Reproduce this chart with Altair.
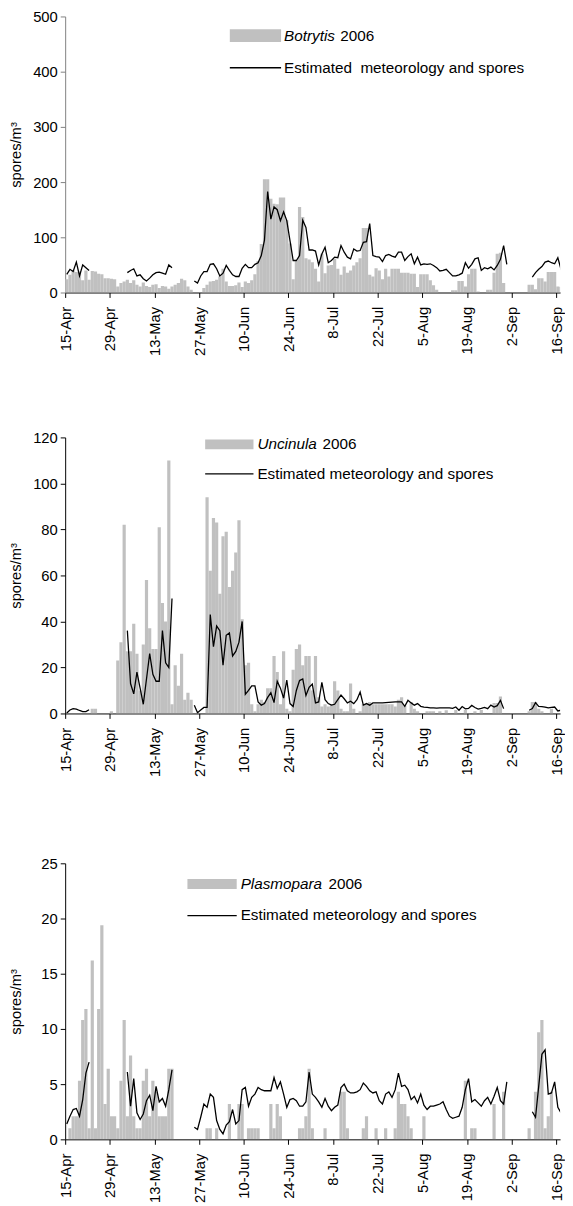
import altair as alt
import pandas as pd

FONT = "Liberation Sans"
N_DAYS = 157
X_MAX = 155.2

tick_days = [0, 14, 28, 42, 56, 70, 84, 98, 112, 126, 140, 154]
tick_labels = ["15-Apr", "29-Apr", "13-May", "27-May", "10-Jun", "24-Jun",
               "8-Jul", "22-Jul", "5-Aug", "19-Aug", "2-Sep", "16-Sep"]

# ---------------- Botrytis 2006 (daily spores/m3, day 0 = 15-Apr) ----------------
botrytis_bars = [
    24, 32, 40, 37, 38, 22, 40, 23, 39, 38,
    34, 33, 26, 26, 25, 24, 11, 17, 20, 23,
    17, 22, 14, 11, 18, 12, 10, 14, 15, 8,
    12, 11, 7, 11, 14, 17, 25, 22, 11, 5,
    0, 0, 0, 8, 14, 20, 21, 23, 29, 43,
    20, 12, 12, 13, 18, 10, 20, 17, 22, 33,
    57, 88, 205, 205, 170, 161, 160, 172, 172, 131,
    89, 24, 58, 155, 137, 62, 60, 55, 43, 20,
    70, 35, 49, 50, 61, 43, 32, 47, 36, 40,
    49, 55, 62, 117, 117, 32, 29, 44, 40, 24,
    43, 29, 43, 43, 43, 36, 36, 36, 34, 34,
    10, 33, 33, 33, 22, 13, 5, 0, 0, 0,
    0, 4, 4, 21, 21, 11, 33, 43, 43, 2,
    0, 0, 5, 5, 36, 70, 72, 17, 0, 0,
    0, 0, 0, 0, 0, 14, 14, 6, 26, 26,
    20, 37, 37, 37, 11, 10, 10,
]
botrytis_seg_starts = [0, 19, 40, 146]
botrytis_seg_a = [33, 42, 38, 55, 30, 50, 45, 40]
botrytis_seg_b = [36, 40, 43, 30, 32, 25, 21, 26, 32, 36, 37, 35, 33, 50, 45]
botrytis_seg_c = [
    21, 17, 30, 38, 38, 51, 52, 43, 30, 35,
    49, 40, 32, 29, 29, 44, 51, 45, 45, 51,
    54, 67, 95, 183, 133, 155, 150, 130, 146, 130,
    94, 58, 58, 67, 131, 118, 77, 77, 75, 50,
    70, 82, 54, 58, 64, 63, 85, 73, 64, 61,
    79, 75, 76, 91, 92, 125, 67, 65, 64, 56,
    67, 69, 66, 64, 73, 73, 58, 65, 70, 52,
    64, 50, 52, 51, 52, 49, 45, 39, 40, 42,
    36, 30, 30, 32, 35, 54, 44, 51, 61, 63,
    40, 45, 43, 46, 41, 49, 60, 85, 51,
]
botrytis_seg_d = [28, 36, 42, 47, 55, 57, 54, 52, 63, 42, 37]

# ---------------- Uncinula 2006 ----------------
uncinula_bars = [
    0, 0, 0, 0, 0, 0, 0, 0, 2, 2,
    0, 0, 0, 0, 1, 0, 23, 31, 82, 27,
    27, 39, 26, 10, 30, 58, 37, 28, 28, 81,
    48, 40, 110, 4, 21, 12, 26, 6, 9, 6,
    0, 0, 0, 0, 94, 62, 85, 83, 52, 77,
    79, 55, 62, 70, 84, 41, 21, 22, 4, 1,
    4, 6, 5, 11, 11, 25, 18, 4, 27, 2,
    1, 19, 28, 30, 21, 25, 25, 10, 25, 7,
    3, 4, 3, 4, 14, 10, 2, 1, 1, 13,
    2, 0, 1, 4, 4, 5, 4, 4, 4, 4,
    4, 4, 4, 3, 6, 7, 3.5, 0, 5, 2,
    1, 0, 0, 1, 1, 1, 0, 1, 0, 1.4,
    0, 0, 1.5, 0, 0, 1.5, 0, 0, 1, 0,
    1.5, 0, 0, 0, 4.6, 4.6, 7.4, 0, 0, 0,
    0, 0, 0, 0, 0, 1, 5, 5, 2, 1,
    0, 0, 2, 0, 0, 0, 0,
]
uncinula_seg_starts = [0, 19, 40, 145]
uncinula_seg_a = [0.2, 1.5, 2.1, 1.9, 1.3, 0.8, 0.8, 1.6]
uncinula_seg_b = [36, 13, 8.5, 18, 11, 4, 15, 26, 17, 14, 14, 36, 22, 20, 50]
uncinula_seg_c = [
    3.6, 0.3, 1.5, 2.6, 2.6, 43, 29, 38, 36, 21,
    34, 35, 25, 27, 31, 40, 8.3, 10, 12, 12,
    5, 3.6, 4.3, 7, 9, 4.7, 14, 11, 6.7, 14.5,
    4.3, 3, 10, 14.3, 15, 7.8, 11.4, 12.8, 4.6, 5,
    13.5, 6, 4.3, 3.6, 4, 6, 8, 6.4, 4.6, 5.3,
    4.3, 6, 9.3, 3.6, 4.3, 3.6, 4.6, 4.6, 4.6, 4.6,
    4.7, 4.8, 4.9, 5, 5, 5, 3.1, 5.7, 4.6, 3.6,
    4.3, 3.1, 2.8, 2.6, 2.4, 2.4, 2.3, 2.4, 2.4, 2.4,
    2.4, 2.2, 2.8, 1.4, 3, 2, 2.2, 3.5, 2.6, 1.9,
    2.2, 2.6, 2.1, 3.6, 2.8, 3.4, 5.7, 2.1,
]
uncinula_seg_d = [1.4, 2.1, 4.7, 3.1, 3.0, 2.8, 2.4, 2.6, 2.8, 1.1, 1.4]

# ---------------- Plasmopara 2006 ----------------
plasmopara_bars = [
    0, 1, 2.1, 2.1, 5.3, 10.8, 11.8, 1, 16.2, 1,
    11.8, 19.4, 3.2, 6.4, 2.1, 2.1, 1, 5.3, 10.8, 2.1,
    7.6, 2.1, 1, 1, 5.3, 6.4, 2.1, 5.3, 4.3, 2.1,
    2.1, 2.1, 6.4, 6.4, 0, 0, 0, 0, 0, 0,
    0, 0, 0, 0, 1, 1, 0, 1, 0, 0,
    0, 3.2, 0, 0, 3.2, 3.2, 0, 1, 1, 1,
    1, 0, 0, 0, 3.2, 1, 3.2, 2.1, 0, 0,
    0, 0, 0, 1, 1, 2.1, 6.4, 1, 0, 0,
    0, 1, 0, 0, 0, 0, 4.3, 4.3, 1, 0,
    0, 0, 0, 1, 2.1, 0, 0, 1, 0, 0,
    1, 0, 0, 1, 4.3, 3.2, 3.2, 2.1, 1, 0,
    0, 0, 2.1, 0, 0, 0, 0, 0, 0, 0,
    0, 0, 0, 0, 0, 5.3, 0, 1, 1, 0,
    0, 0, 0, 0, 3.2, 0, 0, 4.3, 0, 0,
    0, 0, 0, 0, 0, 1, 0, 4.3, 9.7, 10.8,
    1, 2.1, 4.3, 0, 0, 0, 0,
]
plasmopara_seg_starts = [0, 19, 40, 146]
plasmopara_seg_a = [1.4, 2.1, 2.7, 2.8, 2.1, 3.6, 6.0, 7.0]
plasmopara_seg_b = [6.1, 3.0, 5.5, 2.4, 1.8, 2.3, 3.5, 4.0, 2.6, 4.8, 3.4, 3.7, 3.0, 4.5, 6.3]
plasmopara_seg_c = [
    1.1, 0.9, 2.0, 3.2, 2.9, 4.1, 3.8, 1.7, 0.9, 0.5,
    1.3, 1.6, 2.7, 1.4, 1.7, 4.5, 4.7, 3.0, 3.8, 4.1,
    4.7, 4.5, 4.4, 4.4, 4.4, 5.6, 4.6, 5.2, 4.1, 2.9,
    3.6, 3.7, 3.5, 3.0, 3.0, 3.4, 6.1, 4.1, 3.8, 3.4,
    2.9, 3.7, 3.0, 2.6, 2.9, 3.1, 4.7, 5.0, 4.4, 4.2,
    4.2, 4.3, 4.5, 5.1, 4.8, 4.4, 4.2, 4.3, 3.5, 3.2,
    4.1, 4.3, 3.8, 4.5, 6.0, 4.8, 4.9, 4.5, 3.6, 3.9,
    3.3, 4.1, 3.1, 2.7, 3.0, 3.0, 3.1, 3.2, 3.4, 2.7,
    2.1, 1.9, 2.0, 2.1, 2.9, 4.5, 5.5, 3.4, 3.6, 3.3,
    3.0, 3.5, 3.8, 3.2, 3.9, 4.7, 3.5, 3.2, 5.2,
]
plasmopara_seg_d = [2.5, 2.0, 4.8, 7.7, 8.1, 4.1, 4.2, 5.2, 2.9, 2.4]


def bar_frame(values):
    vals = list(values)[:N_DAYS]
    return pd.DataFrame({"day": list(range(len(vals))), "value": vals})


def line_frame(starts, segments):
    rows = []
    for sid, (start, vals) in enumerate(zip(starts, segments)):
        for i, v in enumerate(vals):
            rows.append({"day": start + i, "value": v, "seg": sid})
    return pd.DataFrame(rows)


LABEL_EXPR = "[" + ",".join("'%s'" % t for t in tick_labels) + "][round(datum.value / 14)]"
ONE = pd.DataFrame({"k": [0]})


def panel(bars, starts, segments, ymax, ystep, species, est_text, leg, ydom_color):
    xscale = alt.Scale(domain=[0, X_MAX], nice=False, zero=False)
    yscale = alt.Scale(domain=[0, ymax], nice=False)
    xaxis = alt.Axis(values=tick_days, labelExpr=LABEL_EXPR, labelAngle=-90,
                     title=None, grid=False, tickSize=5, labelOverlap=False,
                     labelPadding=9, domainColor="black", tickColor="black")
    yaxis = alt.Axis(values=list(range(0, ymax + 1, ystep)), title="spores/m³",
                     grid=False, tickSize=5, labelPadding=3,
                     titleX=-50, titleY=140, titleAngle=-90, titleAlign="center",
                     titleBaseline="middle",
                     domainColor=ydom_color, tickColor=ydom_color)

    bar_layer = alt.Chart(bar_frame(bars)).transform_calculate(
        x0="datum.day", x1="datum.day + 1", base="0"
    ).mark_rect(color="#C0C0C0", clip=True).encode(
        x=alt.X("x0:Q", scale=xscale, axis=xaxis),
        x2="x1:Q",
        y=alt.Y("value:Q", scale=yscale, axis=yaxis),
        y2="base:Q",
    )
    line_layer = alt.Chart(line_frame(starts, segments)).transform_calculate(
        xm="datum.day + 0.5"
    ).mark_line(color="black", strokeWidth=1.3, clip=True).encode(
        x=alt.X("xm:Q", scale=xscale),
        y=alt.Y("value:Q", scale=yscale),
        detail="seg:N",
        order="day:Q",
    )

    sx1, sx2, sy1, sy2, tx, yearx, ly = leg
    swatch = alt.Chart(ONE).mark_rect(color="#C0C0C0").encode(
        x=alt.value(sx1), x2=alt.value(sx2), y=alt.value(sy1), y2=alt.value(sy2))
    sp_text = alt.Chart(ONE).mark_text(align="left", baseline="middle", font=FONT,
                                        fontSize=15.5, fontStyle="italic", color="black").encode(
        x=alt.value(tx), y=alt.value((sy1 + sy2) / 2), text=alt.value(species))
    yr_text = alt.Chart(ONE).mark_text(align="left", baseline="middle", font=FONT,
                                        fontSize=15.5, color="black").encode(
        x=alt.value(yearx), y=alt.value((sy1 + sy2) / 2), text=alt.value("2006"))
    lswatch = alt.Chart(ONE).mark_rule(color="black", strokeWidth=1.3).encode(
        x=alt.value(sx1), x2=alt.value(sx2), y=alt.value(ly))
    est = alt.Chart(ONE).mark_text(align="left", baseline="middle", font=FONT,
                                   fontSize=15.5, color="black").encode(
        x=alt.value(tx), y=alt.value(ly), text=alt.value(est_text))

    return alt.layer(bar_layer, line_layer, swatch, sp_text, yr_text, lswatch, est).properties(
        width=502, height=280)


p1 = panel(botrytis_bars, botrytis_seg_starts,
           [botrytis_seg_a, botrytis_seg_b, botrytis_seg_c, botrytis_seg_d],
           500, 100, "Botrytis", "Estimated\u00a0 meteorology and spores",
           (167, 219, 13, 26, 222, 279, 52), "#808080")
p2 = panel(uncinula_bars, uncinula_seg_starts,
           [uncinula_seg_a, uncinula_seg_b, uncinula_seg_c, uncinula_seg_d],
           120, 20, "Uncinula", "Estimated meteorology and spores",
           (142, 191, 2, 12, 195, 261, 37), "black")
p3 = panel(plasmopara_bars, plasmopara_seg_starts,
           [plasmopara_seg_a, plasmopara_seg_b, plasmopara_seg_c, plasmopara_seg_d],
           25, 5, "Plasmopara", "Estimated meteorology and spores",
           (124, 174, 16, 26, 178, 267, 53), "black")

chart = alt.vconcat(alt.vconcat(p1, p2, spacing=75), p3, spacing=80).properties(
    padding={"left": 1, "top": -7, "right": 0, "bottom": -7}
).configure_view(stroke=None).configure_axis(
    labelFont=FONT, titleFont=FONT, labelFontSize=15, titleFontSize=15,
    labelColor="black", titleColor="black", titleFontWeight="normal",
)

chart.save("out.html", embed_options={"renderer": "svg", "actions": False})
